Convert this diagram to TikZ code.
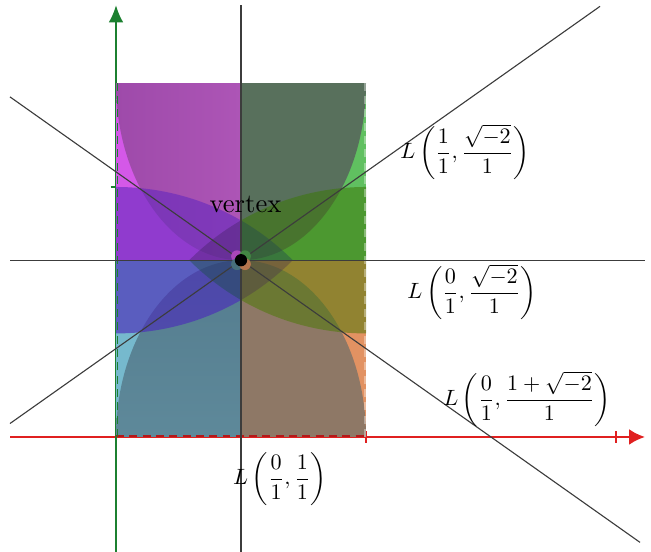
\documentclass[tikz,border=0pt]{standalone}
\usepackage{amsmath}
\usetikzlibrary{arrows.meta}
\definecolor{axred}{RGB}{224,32,32}
\definecolor{axgreen}{RGB}{28,128,48}
\definecolor{lngray}{RGB}{60,60,60}
% base quadrant colours
\definecolor{bTL}{RGB}{212,88,232}
\definecolor{bTR}{RGB}{96,192,96}
\definecolor{bBL}{RGB}{118,185,205}
\definecolor{bBR}{RGB}{226,146,98}
% hourglass colours
\definecolor{hTL}{RGB}{158,74,170}
\definecolor{hTLl}{RGB}{188,96,194}
\definecolor{hTR}{RGB}{88,112,92}
\definecolor{hBL}{RGB}{84,124,142}
\definecolor{hBLl}{RGB}{104,150,166}
\definecolor{hBR}{RGB}{142,120,102}
% lens overlay colours
\definecolor{lTLa}{RGB}{100,40,190}
\definecolor{lTLb}{RGB}{60,30,90}
\definecolor{lTRa}{RGB}{60,120,10}
\definecolor{lTRb}{RGB}{30,70,80}
\definecolor{lBLa}{RGB}{75,45,185}
\definecolor{lBLb}{RGB}{20,80,60}
\definecolor{lBRa}{RGB}{80,120,10}
\definecolor{lBRb}{RGB}{70,40,80}
\newcommand\myLensLeft[1]{\begin{scope}\clip (0,0) circle (1);\fill[#1] (0,1.41421) circle (1);\end{scope}}
\newcommand\myLensRight[1]{\begin{scope}\clip (1,0) circle (1);\fill[#1] (1,1.41421) circle (1);\end{scope}}
\begin{document}
\begin{tikzpicture}[x=3.3cm,y=3.3cm,
  axisx/.style={draw=axred,line width=0.9pt},
  axisy/.style={draw=axgreen,line width=0.9pt},
  thinline/.style={draw=lngray,line width=0.42pt},
  lbl/.style={inner sep=0pt,font=\normalsize},
  mlbl/.style={inner sep=0pt,scale=0.83}]
\useasboundingbox (-0.464,-0.46) rectangle (2.14,1.748);
\def\s{1.41421}\def\h{0.70711}
% axes (drawn first; the fills overlap them)
\coordinate (xs) at (-0.424,0);
\coordinate (xe) at (2.116,0);
\coordinate (ys) at (0,-0.46);
\coordinate (ye) at (0,1.728);
\draw[axisx,-{Latex[length=6pt,width=6pt]}] (xs) -- (xe);
\draw[axisy,-{Latex[length=6.5pt,width=5.5pt]}] (ys) -- (ye);
\draw[axisx] (1,-0.024) -- (1,0.024);
\draw[axisx] (2,-0.024) -- (2,0.024);
\draw[axisy] (-0.022,1) -- (0.012,1);
% top-left quadrant
\begin{scope}
\clip (0,\h) rectangle (0.5,\s);
\fill[bTL] (0,\h) rectangle (0.5,\s);
\shade[left color=hTL,right color=hTLl] (0.5,\s) ellipse [x radius=0.5, y radius=\h];
\myLensLeft{lTLa,opacity=0.6}
\myLensRight{lTLb,opacity=0.35}
\end{scope}
% top-right quadrant
\begin{scope}
\clip (0.5,\h) rectangle (1,\s);
\fill[bTR] (0.5,\h) rectangle (1,\s);
\fill[hTR] (0.5,\s) ellipse [x radius=0.5, y radius=\h];
\myLensRight{lTRa,opacity=0.55}
\myLensLeft{lTRb,opacity=0.4}
\end{scope}
% bottom-left quadrant
\begin{scope}
\clip (0,0) rectangle (0.5,\h);
\fill[bBL] (0,0) rectangle (0.5,\h);
\shade[top color=hBL,bottom color=hBLl] (0.5,0) ellipse [x radius=0.5, y radius=\h];
\myLensLeft{lBLa,opacity=0.65}
\myLensRight{lBLb,opacity=0.4}
\end{scope}
% bottom-right quadrant
\begin{scope}
\clip (0.5,0) rectangle (1,\h);
\fill[bBR] (0.5,0) rectangle (1,\h);
\fill[hBR] (0.5,0) ellipse [x radius=0.5, y radius=\h];
\myLensRight{lBRa,opacity=0.55}
\myLensLeft{lBRb,opacity=0.35}
\end{scope}
% rectangle edges
\draw[axred!80!black,line width=0.5pt,dash pattern=on 3pt off 2pt] (0,0.004) -- (1,0.004);
\draw[axgreen,line width=0.5pt,dash pattern=on 3pt off 2pt] (0.006,0) -- (0.006,\s);
\draw[white,opacity=0.35,line width=0.5pt,dash pattern=on 3pt off 2pt] (0.996,0) -- (0.996,\s);
% lines
\coordinate (v) at (0.5,\h);
\coordinate (vt) at (0.5,1.728);
\coordinate (vb) at (0.5,-0.46);
\coordinate (hl) at (-0.424,\h);
\coordinate (hr) at (2.116,\h);
\coordinate (al) at (-0.424,1.36035);
\coordinate (ar) at (2.096,-0.42154);
\coordinate (bl) at (-0.424,0.05387);
\coordinate (br) at (1.936,1.72250);
\draw[thinline] (vb) -- (vt);
\draw[thinline] (hl) -- (hr);
\draw[thinline] (al) -- (ar);
\draw[thinline] (bl) -- (br);
% vertex point
\fill[bTL!80!black] ([shift={(-1.5pt,1.5pt)}]v) circle (2.2pt);
\fill[bTR!70!black] ([shift={(1.5pt,1.5pt)}]v) circle (2.2pt);
\fill[bBL!60!black] ([shift={(-1.5pt,-1.5pt)}]v) circle (2.2pt);
\fill[bBR!80!black] ([shift={(1.5pt,-1.5pt)}]v) circle (2.2pt);
\fill[black] (v) circle (2.3pt);
% labels
\node[lbl] (vtx) at (0.518,0.93) {vertex};
\node[mlbl] (L1) at (1.396,1.14) {$\displaystyle L\left(\frac{1}{1},\frac{\sqrt{-2}}{1}\right)$};
\node[mlbl] (L2) at (1.424,0.58) {$\displaystyle L\left(\frac{0}{1},\frac{\sqrt{-2}}{1}\right)$};
\node[mlbl] (L3) at (1.644,0.152) {$\displaystyle L\left(\frac{0}{1},\frac{1+\sqrt{-2}}{1}\right)$};
\node[mlbl] (L4) at (0.656,-0.168) {$\displaystyle L\left(\frac{0}{1},\frac{1}{1}\right)$};
\end{tikzpicture}
\end{document}
